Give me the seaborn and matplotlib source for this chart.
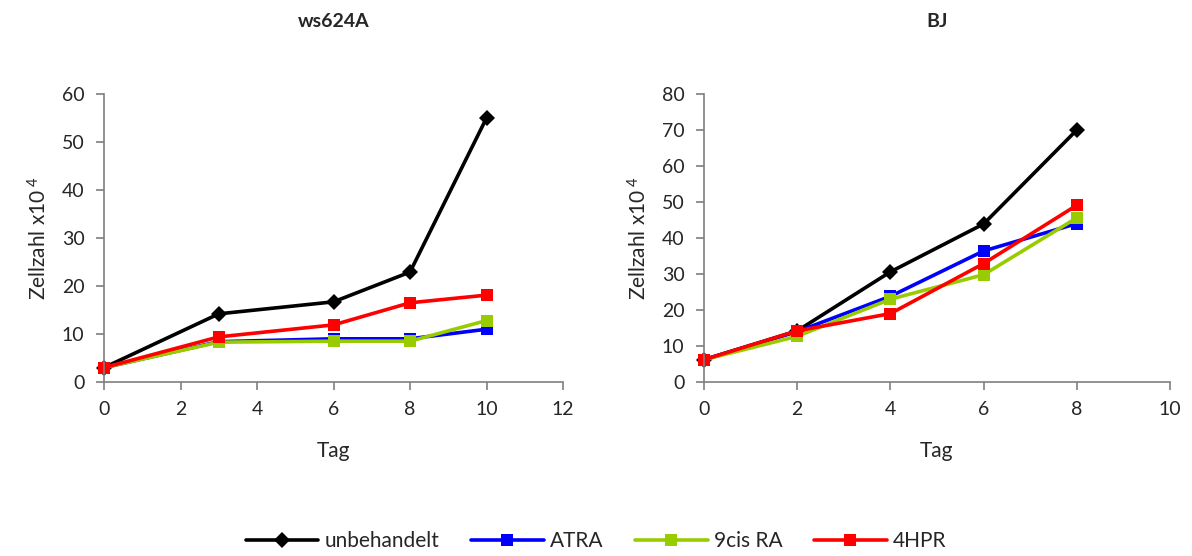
import matplotlib
matplotlib.use("Agg")
import matplotlib.pyplot as plt
import seaborn as sns
import pandas as pd

# Cell counts (x10^4) per day for the two cell lines
treatments = ["unbehandelt", "ATRA", "9cis RA", "4HPR"]

ws_days = [0, 3, 6, 8, 10]
ws_unbehandelt = [3.0, 14.2, 16.7, 22.9, 55.0]
ws_atra = [3.0, 8.4, 9.0, 9.0, 11.0]
ws_9cis = [3.0, 8.3, 8.5, 8.5, 12.8]
ws_4hpr = [3.0, 9.4, 11.9, 16.5, 18.1]

bj_days = [0, 2, 4, 6, 8]
bj_unbehandelt = [6.2, 14.2, 30.6, 43.9, 70.0]
bj_atra = [6.2, 14.0, 23.8, 36.4, 44.0]
bj_9cis = [6.2, 12.7, 23.0, 29.8, 45.6]
bj_4hpr = [6.2, 14.2, 19.0, 32.9, 49.1]

colors = {"unbehandelt": "#000000", "ATRA": "#0000FF",
          "9cis RA": "#99CC00", "4HPR": "#FF0000"}
markers = {"unbehandelt": "D", "ATRA": "s", "9cis RA": "s", "4HPR": "s"}


def long_frame(days, series):
    rows = []
    for name, vals in zip(treatments, series):
        for d, v in zip(days, vals):
            rows.append({"Tag": d, "Zellzahl": v, "Behandlung": name})
    return pd.DataFrame(rows)


ws_df = long_frame(ws_days, [ws_unbehandelt, ws_atra, ws_9cis, ws_4hpr])
bj_df = long_frame(bj_days, [bj_unbehandelt, bj_atra, bj_9cis, bj_4hpr])

sns.set_style("ticks")
plt.rcParams["font.family"] = ["Lato", "DejaVu Sans"]
plt.rcParams["mathtext.fontset"] = "custom"
plt.rcParams["mathtext.rm"] = "Lato"
plt.rcParams["mathtext.it"] = "Lato"

fig = plt.figure(figsize=(11.92, 5.56), dpi=100)
ax1 = fig.add_axes([104 / 1192, 174 / 556, 459 / 1192, 288 / 556])
ax2 = fig.add_axes([704 / 1192, 174 / 556, 466 / 1192, 288 / 556])

spine_col = "#7f7f7f"


def draw(ax, df, title, xmax, ymax):
    for name in treatments:
        sub = df[df["Behandlung"] == name]
        sns.lineplot(data=sub, x="Tag", y="Zellzahl", ax=ax, color=colors[name],
                     marker=markers[name], markersize=8.5, linewidth=2.6,
                     markeredgewidth=0, label=name, legend=False, clip_on=False)
    ax.set_xlim(0, xmax)
    ax.set_ylim(0, ymax)
    ax.set_xticks(range(0, xmax + 1, 2))
    ax.set_yticks(range(0, ymax + 1, 10))
    ax.tick_params(axis="both", direction="out", length=6, width=1.2,
                   color=spine_col, labelsize=14, pad=8)
    for s in ["top", "right"]:
        ax.spines[s].set_visible(False)
    for s in ["left", "bottom"]:
        ax.spines[s].set_color(spine_col)
        ax.spines[s].set_linewidth(1.2)
    ax.set_xlabel("Tag", fontsize=15, labelpad=16)
    ax.set_ylabel("Zellzahl x10$^{\\ 4}$", fontsize=15, labelpad=8)
    ax.set_title(title, fontsize=14, fontweight="bold", pad=48)


draw(ax1, ws_df, "ws624A", 12, 60)
draw(ax2, bj_df, "BJ", 10, 80)

handles, labels = ax1.get_legend_handles_labels()
fig.legend(handles, labels, loc="center", bbox_to_anchor=(0.5, 15 / 556),
           ncol=4, frameon=False, fontsize=15, handlelength=3.5, handletextpad=0.3,
           columnspacing=1.5)

fig.savefig("out.png", dpi=100)
